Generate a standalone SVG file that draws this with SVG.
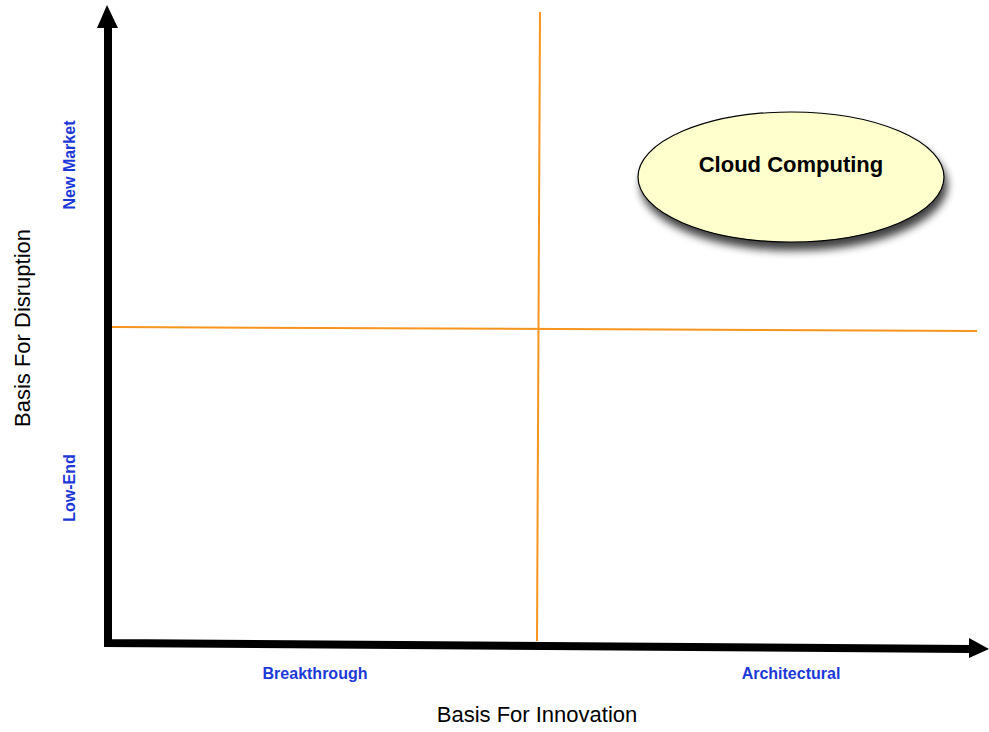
<svg xmlns="http://www.w3.org/2000/svg" width="989" height="732" viewBox="0 0 989 732">
<style>
.axis{stroke:#000;stroke-width:8;fill:none}
.grid{stroke:#F7941D;stroke-width:2;fill:none}
.lbl{font-family:"Liberation Sans",Arial,sans-serif;font-weight:bold;font-size:16px;fill:#1C39D8;text-anchor:middle}
.title{font-family:"Liberation Sans",Arial,sans-serif;font-size:22px;fill:#000;text-anchor:middle}
.node{font-family:"Liberation Sans",Arial,sans-serif;font-weight:bold;font-size:22px;fill:#000;text-anchor:middle}
</style>
<defs>
<filter id="sh" x="-20%" y="-20%" width="150%" height="160%">
<feGaussianBlur in="SourceAlpha" stdDeviation="4"/>
<feOffset dx="3" dy="8"/>
<feComponentTransfer><feFuncA type="linear" slope="0.75"/></feComponentTransfer>
<feMerge><feMergeNode/><feMergeNode in="SourceGraphic"/></feMerge>
</filter>
</defs>
<rect width="989" height="732" fill="#fff"/>
<g id="connectors">
<line class="grid" x1="540" y1="12" x2="537" y2="641"/>
<line class="grid" x1="112" y1="327" x2="977" y2="331"/>
<polyline class="axis" points="108,26 108,643 970,649"/>
<polygon points="107,5 97,28 118,28" fill="#000"/>
<polygon points="989,649 969,638 969,658" fill="#000"/>
</g>
<g id="cloud-computing">
<ellipse cx="791" cy="177" rx="153" ry="65" fill="#FEFFCC" stroke="#000" stroke-width="1.2" filter="url(#sh)"/>
<text class="node" x="791" y="172">Cloud Computing</text>
</g>
<g id="labels">
<text class="lbl" transform="translate(75,165) rotate(-90)">New Market</text>
<text class="lbl" transform="translate(75,488) rotate(-90)">Low-End</text>
<text class="title" transform="translate(30,328) rotate(-90)">Basis For Disruption</text>
<text class="lbl" x="315" y="679">Breakthrough</text>
<text class="lbl" x="791" y="679">Architectural</text>
<text class="title" x="537" y="722">Basis For Innovation</text>
</g>
</svg>
